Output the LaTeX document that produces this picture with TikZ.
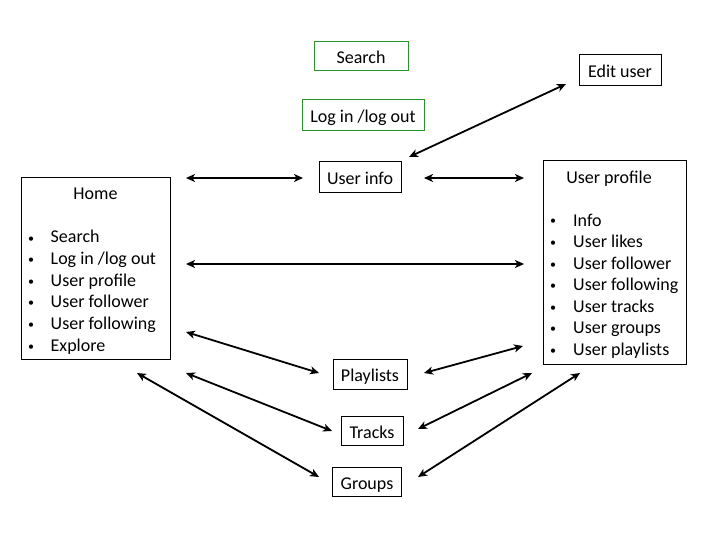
\documentclass[tikz,border=0pt]{standalone}
\usepackage{fontspec}
\setmainfont{Carlito}
\usetikzlibrary{arrows.meta}
\definecolor{boxgreen}{RGB}{40,150,40}
\begin{document}
\begin{tikzpicture}[x=1pt,y=-1pt,
  lbl/.style={font=\fontsize{18}{21}\selectfont},
  box/.style={lbl,draw=black,line width=0.9pt,inner sep=0pt,text height=16pt,text depth=0.5pt},
  gbox/.style={box,draw=boxgreen},
  frame/.style={draw=black,line width=0.9pt,inner sep=0pt},
  item/.style={lbl,inner sep=0pt,anchor=base west},
  bul/.style={font=\fontsize{12}{14}\selectfont,inner sep=0pt,anchor=base},
  ttl/.style={lbl,inner sep=0pt,anchor=base},
  link/.style={line width=1.8pt,{Stealth[length=9pt,width=8pt,inset=2.5pt]}-{Stealth[length=9pt,width=8pt,inset=2.5pt]}}]
\useasboundingbox (0,0) rectangle (720,540);

% boxes
\node[gbox,minimum width=94,minimum height=29] (search) at (361,55.5) {Search};
\node[gbox,minimum width=122,minimum height=31] (login) at (363,114.5) {Log in /log out};
\node[box,minimum width=82,minimum height=31] (edit) at (620,70) {Edit user};
\node[box,minimum width=82,minimum height=31] (uinfo) at (360,177) {User info};
\node[frame,minimum width=149,minimum height=182] (home) at (95.5,268) {};
\node[frame,minimum width=143,minimum height=204] (uprof) at (614.5,262) {};
\node[box,minimum width=74,minimum height=30] (play) at (370,374) {Playlists};
\node[box,minimum width=62,minimum height=29] (tracks) at (372,430.5) {Tracks};
\node[box,minimum width=69,minimum height=29] (groups) at (367,481.5) {Groups};

% Home contents
\node[ttl] (hometitle) at (95.5,200) {Home};
\foreach \y/\t [count=\i] in {243/{Search},264.3/{Log in /log out},286/{User profile},307.7/{User follower},329.3/{User following},351/{Explore}}{
  \node[bul] (hb\i) at (31,\y-1) {\textbullet};
  \node[item] (hi\i) at (50.5,\y) {\t};
}

% User profile contents
\node[ttl] (uptitle) at (609,183.5) {User profile};
\foreach \y/\t [count=\i] in {226/{Info},247.5/{User likes},269.1/{User follower},290.7/{User following},312.2/{User tracks},333.7/{User groups},355.2/{User playlists}}{
  \node[bul] (ub\i) at (553,\y-1) {\textbullet};
  \node[item] (ui\i) at (573,\y) {\t};
}

% connector end points
\coordinate (a1) at (186,178);  \coordinate (b1) at (303,178);
\coordinate (a2) at (424,178);  \coordinate (b2) at (524,178);
\coordinate (a3) at (409,157);  \coordinate (b3) at (566,84);
\coordinate (a4) at (186,264);  \coordinate (b4) at (524,264);
\coordinate (a5) at (186,332);  \coordinate (b5) at (319,373);
\coordinate (a6) at (137,373);  \coordinate (b6) at (319,477);
\coordinate (a7) at (186,373);  \coordinate (b7) at (332,431);
\coordinate (a8) at (424,373);  \coordinate (b8) at (523,346);
\coordinate (a9) at (418,429);  \coordinate (b9) at (532,373);
\coordinate (a10) at (418,477); \coordinate (b10) at (580,373);

\foreach \i in {1,...,10}{\draw[link] (a\i) -- (b\i);}
\end{tikzpicture}
\end{document}
